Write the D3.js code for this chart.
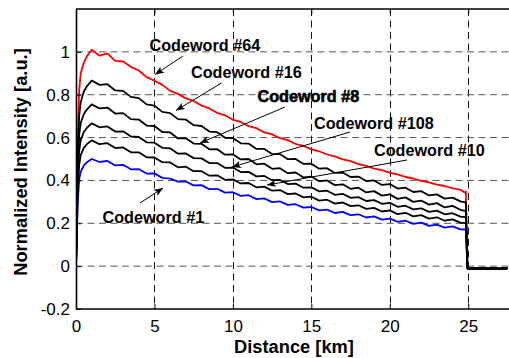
<!DOCTYPE html>
<html><head><meta charset="utf-8">
<script src="https://cdn.jsdelivr.net/npm/d3@7"></script>
<style>body{margin:0;background:#fff}svg{display:block}</style>
</head><body>
<script>
// Distance samples (km)
const distance = [
  0, 0.05, 0.1, 0.2, 0.3, 0.5, 0.7, 1.0,
  1.5, 2, 2.5, 3, 3.5, 4, 4.5,
  5, 5.5, 6, 6.5, 7, 7.5, 8, 8.5, 9, 9.5,
  10, 10.5, 11, 11.5, 12, 12.5, 13, 13.5, 14, 14.5,
  15, 15.5, 16, 16.5, 17, 17.5, 18, 18.5, 19, 19.5,
  20, 20.5, 21, 21.5, 22, 22.5, 23, 23.5, 24, 24.5,
  24.8, 24.85,
  24.95, 25, 25.5, 26, 26.5, 27, 27.5
];
const codeword64 = [
  0, 0.25, 0.56, 0.82, 0.9, 0.95, 0.98, 1.01,
  0.982, 0.993, 0.958, 0.955, 0.93, 0.913, 0.882,
  0.865, 0.846, 0.818, 0.804, 0.783, 0.771, 0.749, 0.736, 0.715, 0.704,
  0.683, 0.673, 0.653, 0.644, 0.624, 0.615, 0.597, 0.588, 0.57, 0.561,
  0.545, 0.536, 0.521, 0.512, 0.498, 0.49, 0.476, 0.468, 0.455, 0.448,
  0.435, 0.428, 0.416, 0.409, 0.398, 0.391, 0.38, 0.374, 0.363, 0.357,
  0.343, 0.348,
  -0.004, -0.012, -0.009, -0.013, -0.008, -0.012, -0.01
];
const codeword16 = [
  0, 0.22, 0.48, 0.7, 0.765, 0.815, 0.84, 0.866,
  0.846, 0.849, 0.82, 0.818, 0.79, 0.784, 0.755,
  0.749, 0.72, 0.714, 0.686, 0.684, 0.658, 0.654, 0.628, 0.625, 0.599,
  0.598, 0.573, 0.572, 0.547, 0.547, 0.523, 0.523, 0.499, 0.5, 0.477,
  0.478, 0.455, 0.457, 0.435, 0.437, 0.416, 0.418, 0.397, 0.4, 0.379,
  0.383, 0.362, 0.366, 0.346, 0.35, 0.33, 0.335, 0.315, 0.32, 0.302,
  0.298, 0.3,
  -0.006, -0.011, -0.01, -0.012, -0.009, -0.013, -0.01
];
const codeword8 = [
  0, 0.19, 0.42, 0.61, 0.668, 0.71, 0.732, 0.755,
  0.736, 0.74, 0.712, 0.714, 0.686, 0.684, 0.656,
  0.654, 0.626, 0.624, 0.596, 0.597, 0.572, 0.571, 0.545, 0.546, 0.52,
  0.522, 0.498, 0.5, 0.475, 0.478, 0.454, 0.457, 0.434, 0.437, 0.414,
  0.418, 0.396, 0.4, 0.378, 0.382, 0.361, 0.366, 0.344, 0.35, 0.329,
  0.335, 0.314, 0.321, 0.3, 0.306, 0.287, 0.294, 0.274, 0.281, 0.263,
  0.258, 0.26,
  -0.008, -0.01, -0.012, -0.009, -0.012, -0.01, -0.011
];
const codeword108 = [
  0, 0.17, 0.37, 0.535, 0.588, 0.626, 0.646, 0.666,
  0.648, 0.652, 0.628, 0.629, 0.605, 0.603, 0.578,
  0.576, 0.552, 0.55, 0.525, 0.526, 0.504, 0.503, 0.481, 0.481, 0.459,
  0.46, 0.439, 0.44, 0.419, 0.421, 0.401, 0.402, 0.383, 0.385, 0.366,
  0.368, 0.349, 0.352, 0.333, 0.337, 0.319, 0.322, 0.304, 0.308, 0.291,
  0.295, 0.277, 0.282, 0.265, 0.27, 0.253, 0.259, 0.242, 0.247, 0.231,
  0.229, 0.23,
  -0.01, -0.012, -0.009, -0.011, -0.013, -0.01, -0.009
];
const codeword10 = [
  0, 0.15, 0.325, 0.47, 0.518, 0.552, 0.57, 0.587,
  0.569, 0.574, 0.551, 0.554, 0.531, 0.531, 0.508,
  0.507, 0.485, 0.484, 0.461, 0.464, 0.443, 0.443, 0.422, 0.424, 0.403,
  0.405, 0.386, 0.388, 0.368, 0.371, 0.352, 0.355, 0.336, 0.339, 0.321,
  0.324, 0.306, 0.31, 0.292, 0.297, 0.28, 0.284, 0.267, 0.272, 0.255,
  0.26, 0.243, 0.249, 0.232, 0.238, 0.222, 0.228, 0.212, 0.218, 0.203,
  0.201, 0.203,
  -0.009, -0.011, -0.013, -0.01, -0.011, -0.012, -0.01
];
const codeword1 = [
  0, 0.125, 0.28, 0.405, 0.44, 0.47, 0.485, 0.5,
  0.486, 0.491, 0.47, 0.473, 0.452, 0.453, 0.432,
  0.433, 0.412, 0.408, 0.394, 0.395, 0.377, 0.378, 0.359, 0.361, 0.343,
  0.345, 0.328, 0.331, 0.313, 0.316, 0.299, 0.302, 0.286, 0.289, 0.273,
  0.276, 0.26, 0.264, 0.248, 0.253, 0.238, 0.242, 0.227, 0.232, 0.217,
  0.222, 0.207, 0.212, 0.197, 0.203, 0.188, 0.194, 0.18, 0.186, 0.172,
  0.171, 0.173,
  -0.01, -0.012, -0.011, -0.009, -0.013, -0.01, -0.012
];
const seriesNames = ["Codeword #64","Codeword #16","Codeword #8","Codeword #108","Codeword #10","Codeword #1"];
const seriesValues = [codeword64, codeword16, codeword8, codeword108, codeword10, codeword1];
const seriesColors = ["#ff0000","#000000","#000000","#000000","#000000","#0000ff"];
const xTickValues = [0, 5, 10, 15, 20, 25];
const yTickValues = [-0.2, 0, 0.2, 0.4, 0.6, 0.8, 1];
const xGridValues = [5, 10, 15, 20, 25];
const yGridValues = [0, 0.2, 0.4, 0.6, 0.8, 1];

const W = 509, H = 358;
const svg = d3.select("body").append("svg").attr("width", W).attr("height", H);
const font = "'Liberation Sans', Arial, Helvetica, sans-serif";

const x = d3.scaleLinear().domain([0, 27.6]).range([76, 509]);
const y = d3.scaleLinear().domain([-0.2, 1.2]).range([309, 9]);

// grid
const grid = svg.append("g").attr("fill", "none")
  .attr("stroke-width", 1).attr("stroke-dasharray", "7,4.5");
grid.selectAll("line.v").data(xGridValues).join("line").attr("class", "v")
  .attr("stroke", "#111")
  .attr("x1", d => Math.round(x(d)) + 0.5).attr("x2", d => Math.round(x(d)) + 0.5)
  .attr("y1", y(1.2)).attr("y2", y(-0.2));
grid.selectAll("line.h").data(yGridValues).join("line").attr("class", "h")
  .attr("stroke", "#555")
  .attr("x1", x(0)).attr("x2", W).attr("y1", d => y(d)).attr("y2", d => y(d));

// clip
svg.append("clipPath").attr("id", "clip").append("rect")
  .attr("x", x(0)).attr("y", y(1.2)).attr("width", W - x(0)).attr("height", y(-0.2) - y(1.2));

const line = d3.line().x(d => x(d[0])).y(d => y(d[1]));
const order = [0, 5, 1, 2, 3, 4];
const lines = svg.append("g").attr("clip-path", "url(#clip)");
order.forEach(i => {
  const pts = distance.map((d, j) => [d, seriesValues[i][j]]).filter(p => p[1] !== undefined);
  lines.append("path").datum(pts).attr("d", line)
    .attr("fill", "none").attr("stroke", seriesColors[i]).attr("stroke-width", 1.8)
    .attr("stroke-linejoin", "round");
});

// axes
const fmt = d => d === 0 ? "0" : String(+d.toFixed(1));
const xAxis = svg.append("g").attr("transform", `translate(0,${y(-0.2)})`)
  .call(d3.axisBottom(x).tickValues(xTickValues).tickSizeInner(-5).tickSizeOuter(0).tickPadding(11).tickFormat(d => String(d)));
const yAxis = svg.append("g").attr("transform", `translate(${x(0)},0)`)
  .call(d3.axisLeft(y).tickValues(yTickValues).tickSizeInner(-5).tickSizeOuter(0).tickPadding(6).tickFormat(fmt));
const topAxis = svg.append("g").attr("transform", `translate(0,${y(1.2)})`)
  .call(d3.axisTop(x).tickValues(xTickValues).tickSizeInner(-5).tickSizeOuter(0).tickFormat(""));
[xAxis, yAxis, topAxis].forEach(g => {
  g.select(".domain").attr("stroke", "#000").attr("stroke-width", 1.6);
  g.selectAll(".tick line").attr("stroke", "#000").attr("stroke-width", 1);
  g.selectAll("text").attr("fill", "#000").style("font-family", font).style("font-size", "17px");
});
topAxis.select(".domain").attr("d", `M${x(0)},0H${W}`);
xAxis.select(".domain").attr("d", `M${x(0)},0H${W}`);

// axis titles
svg.append("text").attr("x", 294).attr("y", 353).attr("text-anchor", "middle")
  .style("font-family", font).style("font-size", "18.3px").style("font-weight", "bold")
  .text("Distance [km]");
svg.append("text").attr("transform", "translate(26.5,162) rotate(-90)").attr("text-anchor", "middle")
  .style("font-family", font).style("font-size", "18.3px").style("font-weight", "bold")
  .text("Normalized Intensity [a.u.]");

// arrow marker
const defs = svg.append("defs");
defs.append("marker").attr("id", "arr").attr("viewBox", "0 0 10 8")
  .attr("refX", 10).attr("refY", 4).attr("markerWidth", 9).attr("markerHeight", 7.2)
  .attr("markerUnits", "userSpaceOnUse").attr("orient", "auto")
  .append("path").attr("d", "M0,0 L10,4 L0,8 L2.5,4 Z").attr("fill", "#000");

// annotations: [label index, text x, text baseline, arrow start x, y, arrow tip x, y]
const notes = [
  [0, 149.5, 51, 183, 56, 155, 74.5],
  [1, 191, 77.5, 221.5, 83, 176, 110.5],
  [2, 257.5, 101.5, 285, 107, 200, 143],
  [3, 314, 128.5, 350, 132, 232, 167],
  [4, 374, 155.5, 407, 160, 267, 185],
  [5, 102.5, 223, 140, 203, 163, 188]
];
const ann = svg.append("g");
notes.forEach(n => {
  ann.append("line").attr("x1", n[3]).attr("y1", n[4]).attr("x2", n[5]).attr("y2", n[6])
    .attr("stroke", "#000").attr("stroke-width", 1).attr("marker-end", "url(#arr)");
  const t = ann.append("text").attr("x", n[1]).attr("y", n[2])
    .style("font-family", font).style("font-size", "16.2px").style("font-weight", "bold")
    .text(seriesNames[n[0]]);
  if (n[0] === 2) t.attr("stroke", "#000").attr("stroke-width", 0.6);
});
</script>
</body></html>
